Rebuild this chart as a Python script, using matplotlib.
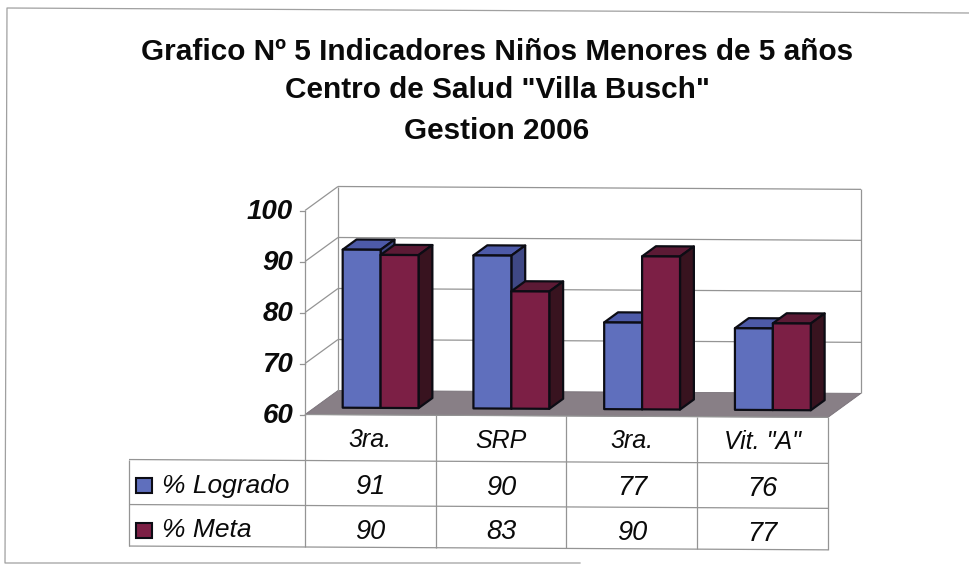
import matplotlib
matplotlib.use("Agg")
import matplotlib.pyplot as plt
from matplotlib.patches import Polygon, Rectangle

categories = ["3ra.", "SRP", "3ra.", 'Vit. "A"']
logrado = [91, 90, 77, 76]
meta = [90, 83, 90, 77]
series_names = ["% Logrado", "% Meta"]
y_ticks = [60, 70, 80, 90, 100]

plt.rcParams['font.family'] = ['Liberation Sans', 'DejaVu Sans']

# colours: front, top, side
blue = ("#5f6fbd", "#4d5aa8", "#3f4885")
red = ("#7c1f45", "#5c1a35", "#38131f")
edge = "#0c0c14"
grid = "#949494"
ink = "#0a0a0a"

# scale of the chart, pixels per category and per value
px_cat = 130.75
px_val = 5.1
x0_px = 305
y0_px = 414.5

# size of the 3d box in data units
depth_x = 33 / px_cat
depth_y = 24 / px_val
tilt = 0.14  # the scan is slightly rotated

bar_w = 0.29
bar_gap = 0.215
d_front = 0.29
d_back = 0.71


def proj(x, v, d=0):
    return x + d * depth_x, v + d * depth_y - tilt * x


def px(xp, yp):
    return (xp - x0_px) / px_cat, 60 + (y0_px - yp) / px_val


def poly(ax, pts, fc, ec, lw=1.0, z=2):
    ax.add_patch(Polygon([proj(*p) for p in pts], closed=True, facecolor=fc,
                         edgecolor=ec, linewidth=lw, joinstyle='round', zorder=z))


def line(ax, a, b, lw=0.9, color=grid, z=1):
    pa, pb = proj(*a), proj(*b)
    ax.plot([pa[0], pb[0]], [pa[1], pb[1]], color=color, lw=lw, zorder=z,
            solid_capstyle='butt')


def bar3d(ax, x, v, cols, z):
    x2 = x + bar_w
    poly(ax, [(x, 60, d_front), (x2, 60, d_front), (x2, v, d_front), (x, v, d_front)], cols[0], edge, 1.6, z + 0.2)
    poly(ax, [(x, v, d_front), (x2, v, d_front), (x2, v, d_back), (x, v, d_back)], cols[1], edge, 1.6, z)
    poly(ax, [(x2, 60, d_front), (x2, 60, d_back), (x2, v, d_back), (x2, v, d_front)], cols[2], edge, 1.6, z + 0.1)


fig = plt.figure(figsize=(9.7, 5.65), dpi=100)
ax = fig.add_axes([0, 0, 1, 1])
ax.set_xlim(-x0_px / px_cat, (970 - x0_px) / px_cat)
ax.set_ylim(60 - (565 - y0_px) / px_val, 60 + y0_px / px_val)
ax.axis('off')

# outer frame, open on the right like the scan
frame = [px(970, 13), px(7, 8), px(5, 563), px(580, 563)]
ax.plot([p[0] for p in frame], [p[1] for p in frame], color="#a0a0a0", lw=0.9, zorder=0.5)

n = len(categories)

# walls and floor
poly(ax, [(0, 60, 0), (n, 60, 0), (n, 60, 1), (0, 60, 1)], "#887f86", "#777077", 0.6, 1)
for t in y_ticks[1:]:
    line(ax, (0, t, 1), (n, t, 1))
    line(ax, (0, t, 0), (0, t, 1))
line(ax, (0, 60, 1), (0, 100, 1))
line(ax, (n, 60, 1), (n, 100, 1))
line(ax, (0, 60, 0), (0, 100, 0))
for t in y_ticks:
    p = proj(0, t, 0)
    ax.plot([p[0] - 5 / px_cat, p[0]], [p[1], p[1]], color=grid, lw=0.9, zorder=1)
    ax.text(p[0] - 12 / px_cat, p[1] - 0.3, str(t), ha='right', va='center', fontsize=20,
            fontweight='bold', fontstyle='italic', color=ink)

# bars, back to front and left to right
for i in range(n):
    bar3d(ax, i + bar_gap, logrado[i], blue, 3 + i)
    bar3d(ax, i + bar_gap + bar_w, meta[i], red, 3.5 + i)

# data table
row_h = [46 / px_val, 45 / px_val, 41.5 / px_val]
rows = [60 - sum(row_h[:k]) for k in range(4)]
label_x = (129 - x0_px) / px_cat
for k, r in enumerate(rows):
    line(ax, (0 if k == 0 else label_x, r), (n, r))
for i in range(n + 1):
    line(ax, (i, 60), (i, rows[3]))
line(ax, (label_x, rows[1]), (label_x, rows[3]))

for i, c in enumerate(categories):
    x, y = proj(i + 0.5, (rows[0] + rows[1]) / 2 - 0.4)
    ax.text(x, y, c, ha='center', va='center', fontsize=18, fontstyle='italic', color=ink)
for k, (vals, cols, name) in enumerate(zip([logrado, meta], [blue, red], series_names)):
    ymid = (rows[k + 1] + rows[k + 2]) / 2 - 0.7 - 0.3 * k
    for i, v in enumerate(vals):
        x, y = proj(i + 0.5, ymid)
        ax.text(x, y, str(v), ha='center', va='center', fontsize=19.5, fontstyle='italic', color=ink)
    sx, sy = proj(label_x, ymid)
    ax.add_patch(Rectangle((sx + 7 / px_cat, sy - 7.5 / px_val), 16 / px_cat, 15 / px_val,
                           fc=cols[0], ec=edge, lw=1.5, zorder=3))
    ax.text(sx + 33 / px_cat, sy, name, ha='left', va='center', fontsize=19,
            fontstyle='italic', color=ink)

# title
for txt, py in zip(['Grafico Nº 5 Indicadores Niños Menores de 5 años',
                    'Centro de Salud "Villa Busch"', 'Gestion 2006'], [52, 90, 131]):
    ax.text(*px(497, py), txt, ha='center', va='center', fontsize=21.4,
            fontweight='bold', color=ink)

fig.savefig("out.png", dpi=100)
